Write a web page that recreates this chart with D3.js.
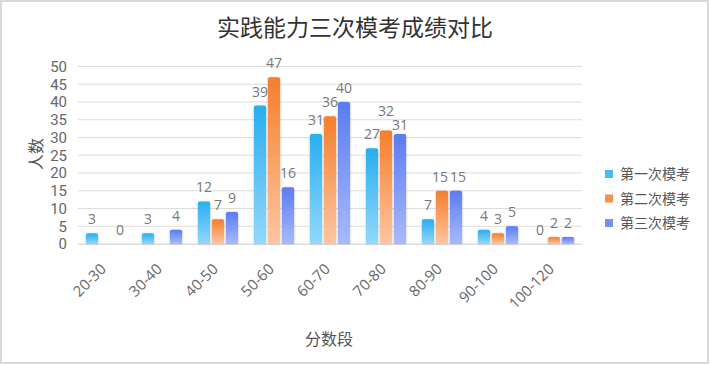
<!DOCTYPE html>
<html><head><meta charset="utf-8">
<script src="https://cdn.jsdelivr.net/npm/d3@7/dist/d3.min.js"></script>
<style>body{margin:0;background:#fff;}svg{display:block;font-family:"Noto Sans CJK SC","Microsoft YaHei",sans-serif;}</style>
</head><body><svg id="c" width="710" height="365"></svg>
<script>
const categories = ["20-30","30-40","40-50","50-60","60-70","70-80","80-90","90-100","100-120"];
const seriesNames = ["第一次模考","第二次模考","第三次模考"];
const s1 = [3,3,12,39,31,27,7,4,0];
const s2 = [null,null,7,47,36,32,15,3,2];
const s3 = [0,4,9,16,40,31,15,5,2];
const yTicks = [0,5,10,15,20,25,30,35,40,45,50];
const colorsTop = ["#28aef0","#f57e2c","#5a7cf2"];
const colorsBot = ["#93d8fb","#fdc6a2","#a9bafa"];
const numFont = "'Open Sans','Noto Sans',sans-serif";

const svg = d3.select("#c");
svg.append("rect").attr("x",1).attr("y",1).attr("width",707).attr("height",362)
  .attr("fill","#fff").attr("stroke","#d9d9d9").attr("stroke-width",2);

const defs = svg.append("defs");
colorsTop.forEach((c,i)=>{
  const g = defs.append("linearGradient").attr("id","g"+i).attr("x1",0).attr("y1",0).attr("x2",0).attr("y2",1);
  g.append("stop").attr("offset","0%").attr("stop-color",c);
  g.append("stop").attr("offset","100%").attr("stop-color",colorsBot[i]);
});
const f = defs.append("filter").attr("id","sh").attr("x","-50%").attr("y","-20%").attr("width","200%").attr("height","140%");
f.append("feDropShadow").attr("dx",0).attr("dy",0).attr("stdDeviation",1.2).attr("flood-color","#000").attr("flood-opacity",0.18);

const x = d3.scaleBand().domain(categories).range([78,582]).paddingInner(0.28).paddingOuter(0.14);
const xs = d3.scaleBand().domain([0,1,2]).range([0,x.bandwidth()]).paddingInner(0.12);
const y = d3.scaleLinear().domain([0,50]).range([244,66.5]);

// grid
svg.append("g").selectAll("line").data(yTicks).join("line")
  .attr("x1",78).attr("x2",582).attr("y1",d=>y(d)).attr("y2",d=>y(d))
  .attr("stroke","#dcdcdc").attr("stroke-width",1);

// y axis labels
const ya = svg.append("g").attr("transform","translate(67,0)")
  .call(d3.axisLeft(y).tickValues(yTicks).tickSize(0).tickPadding(0));
ya.select(".domain").remove();
ya.selectAll("text").attr("fill","#666").style("font-size","15px").style("font-family","Roboto,sans-serif");

// x axis labels
const xa = svg.append("g").attr("transform","translate(0,244)")
  .call(d3.axisBottom(x).tickSize(0).tickPadding(0));
xa.select(".domain").attr("stroke","#dcdcdc");
xa.selectAll("text").attr("fill","#666").style("font-size","15px")
  .style("font-family",numFont)
  .attr("text-anchor","end").attr("dy",0)
  .attr("transform","translate(1,26) rotate(-45)");

// bars and value labels
const all = [s1,s2,s3];
const labels = [];
all.forEach((s,si)=>{
  const g = svg.append("g");
  const data = categories.map((c,i)=>({c,i,v:s[i]})).filter(d=>d.v!==null);
  g.selectAll("path").data(data.filter(d=>d.v>0)).join("path")
    .attr("fill","url(#g"+si+")").attr("filter","url(#sh)")
    .attr("d",d=>{
      const x0 = x(d.c)+xs(si), w = xs.bandwidth(), y0 = y(d.v), y1 = y(0), r = 2;
      return `M${x0},${y1}V${y0+r}Q${x0},${y0} ${x0+r},${y0}H${x0+w-r}Q${x0+w},${y0} ${x0+w},${y0+r}V${y1}Z`;
    });
  g.selectAll("text").data(data).join("text")
    .attr("x",d=>x(d.c)+xs(si)+xs.bandwidth()/2)
    .attr("y",d=>y(d.v)-9)
    .attr("text-anchor","middle").attr("fill","#777")
    .style("font-size","14px").style("font-family",numFont)
    .text(d=>d.v)
    .each(function(d){ labels.push({el:this,gi:d.i,si,x:+this.getAttribute("x"),y:+this.getAttribute("y"),w:this.getComputedTextLength()}); });
});
// simple label collision avoidance within each group
categories.forEach((c,gi)=>{
  const ls = labels.filter(l=>l.gi===gi).sort((a,b)=>a.si-b.si);
  for(let k=0;k<ls.length-1;k++){
    const a = ls[k], b = ls[k+1];
    const need = (a.w+b.w)/2 + 2;
    if(b.x - a.x < need && Math.abs(a.y-b.y) < 14){
      if(Math.abs(a.y-b.y) < 2){
        const sh = (need-(b.x-a.x))/2;
        a.x -= sh; b.x += sh;
      } else {
        const hi = a.y < b.y ? a : b, lo = a.y < b.y ? b : a;
        const sh = (14-(lo.y-hi.y))/2;
        hi.y -= sh; lo.y += sh;
      }
    }
  }
  ls.forEach(l=>d3.select(l.el).attr("x",l.x).attr("y",l.y));
});

// title
svg.append("text").attr("x",355).attr("y",36).attr("text-anchor","middle")
  .attr("fill","#333").style("font-size","23px").text("实践能力三次模考成绩对比");

// axis titles
svg.append("text").attr("transform","translate(42,154) rotate(-90)").attr("text-anchor","middle")
  .attr("fill","#555").style("font-size","16px").text("人数");
svg.append("text").attr("x",329).attr("y",345).attr("text-anchor","middle")
  .attr("fill","#555").style("font-size","16px").text("分数段");

// legend
const lg = svg.append("g").selectAll("g").data(seriesNames).join("g")
  .attr("transform",(d,i)=>`translate(605,${174+i*24.5})`);
lg.append("rect").attr("x",0).attr("y",-4).attr("width",8).attr("height",8)
  .attr("fill",(d,i)=>colorsTop[i]).attr("opacity",0.85);
lg.append("text").attr("x",15).attr("y",5).attr("fill","#555").style("font-size","14px").text(d=>d);
</script></body></html>
